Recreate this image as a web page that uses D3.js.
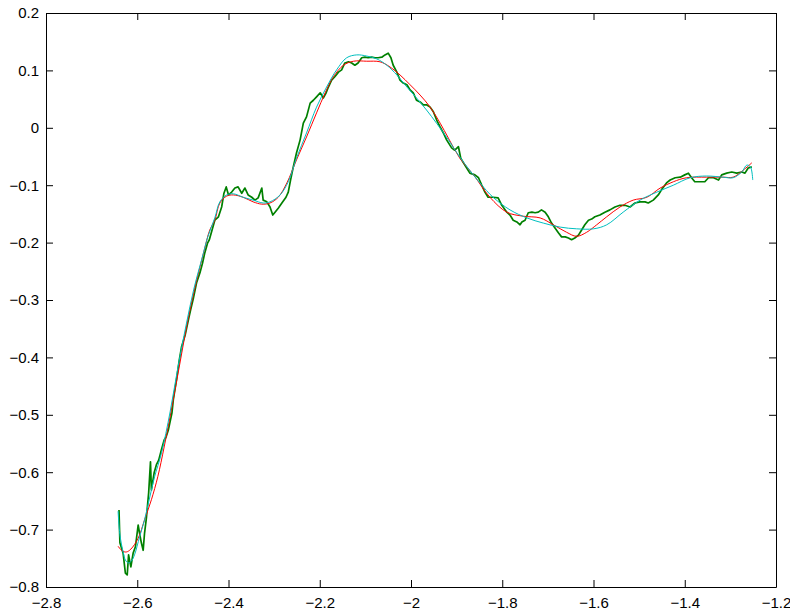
<!DOCTYPE html>
<html>
<head>
<meta charset="utf-8">
<script src="https://cdn.jsdelivr.net/npm/d3@7"></script>
<style>
  html, body { margin: 0; padding: 0; background: #fff; }
  svg { display: block; }
  text { font-family: "Liberation Sans", Arial, Helvetica, sans-serif; }
</style>
</head>
<body>
<svg id="chart" width="790" height="611"></svg>
<script>
// ---------------- DATA ----------------
const xTicks = [-2.8, -2.6, -2.4, -2.2, -2.0, -1.8, -1.6, -1.4, -1.2];
const yTicks = [-0.8, -0.7, -0.6, -0.5, -0.4, -0.3, -0.2, -0.1, 0, 0.1, 0.2];
const xDomain = [-2.8, -1.2];
const yDomain = [-0.8, 0.2];

// measured (noisy) data – green
const dataX = [-2.640,-2.638,-2.631,-2.626,-2.622,-2.619,-2.614,-2.609,-2.604,-2.598,-2.595,-2.591,-2.587,-2.584,-2.580,-2.575,-2.571,-2.569,-2.563,-2.558,-2.553,-2.547,-2.541,-2.537,-2.532,-2.524,-2.521,-2.514,-2.508,-2.503,-2.495,-2.488,-2.483,-2.477,-2.470,-2.462,-2.457,-2.452,-2.446,-2.442,-2.436,-2.430,-2.422,-2.415,-2.410,-2.405,-2.400,-2.393,-2.386,-2.379,-2.371,-2.364,-2.357,-2.349,-2.342,-2.335,-2.327,-2.324,-2.316,-2.309,-2.303,-2.298,-2.291,-2.283,-2.274,-2.269,-2.264,-2.258,-2.251,-2.243,-2.236,-2.229,-2.221,-2.214,-2.207,-2.199,-2.192,-2.186,-2.181,-2.174,-2.167,-2.159,-2.152,-2.145,-2.137,-2.130,-2.123,-2.116,-2.108,-2.101,-2.094,-2.086,-2.079,-2.072,-2.064,-2.057,-2.050,-2.044,-2.039,-2.031,-2.024,-2.017,-2.009,-2.002,-1.995,-1.988,-1.980,-1.973,-1.966,-1.958,-1.951,-1.944,-1.936,-1.929,-1.922,-1.911,-1.904,-1.896,-1.891,-1.882,-1.871,-1.860,-1.852,-1.845,-1.838,-1.831,-1.820,-1.809,-1.801,-1.790,-1.783,-1.776,-1.768,-1.761,-1.757,-1.750,-1.743,-1.735,-1.728,-1.721,-1.714,-1.706,-1.699,-1.692,-1.684,-1.677,-1.670,-1.662,-1.655,-1.648,-1.641,-1.633,-1.626,-1.619,-1.611,-1.604,-1.597,-1.586,-1.575,-1.564,-1.553,-1.542,-1.531,-1.520,-1.509,-1.498,-1.487,-1.480,-1.469,-1.458,-1.451,-1.440,-1.432,-1.421,-1.410,-1.400,-1.392,-1.385,-1.378,-1.367,-1.356,-1.348,-1.337,-1.326,-1.319,-1.308,-1.297,-1.286,-1.275,-1.268,-1.261,-1.253];
const dataY = [-0.666,-0.723,-0.741,-0.776,-0.779,-0.744,-0.765,-0.741,-0.730,-0.692,-0.706,-0.723,-0.736,-0.706,-0.680,-0.636,-0.582,-0.631,-0.601,-0.587,-0.579,-0.561,-0.544,-0.539,-0.527,-0.497,-0.474,-0.439,-0.405,-0.382,-0.361,-0.335,-0.317,-0.297,-0.270,-0.251,-0.236,-0.218,-0.201,-0.195,-0.178,-0.161,-0.155,-0.138,-0.114,-0.103,-0.117,-0.112,-0.105,-0.103,-0.114,-0.105,-0.117,-0.121,-0.126,-0.122,-0.105,-0.126,-0.129,-0.138,-0.152,-0.147,-0.140,-0.131,-0.121,-0.112,-0.091,-0.068,-0.044,-0.021,0.008,0.019,0.043,0.048,0.054,0.061,0.052,0.061,0.071,0.083,0.089,0.097,0.101,0.113,0.115,0.113,0.109,0.113,0.122,0.123,0.122,0.123,0.122,0.122,0.123,0.127,0.130,0.122,0.109,0.097,0.083,0.078,0.075,0.066,0.061,0.048,0.045,0.040,0.040,0.036,0.028,0.014,0.001,-0.009,-0.021,-0.035,-0.039,-0.033,-0.053,-0.065,-0.079,-0.082,-0.087,-0.100,-0.112,-0.121,-0.121,-0.122,-0.135,-0.147,-0.152,-0.161,-0.164,-0.169,-0.164,-0.161,-0.148,-0.147,-0.148,-0.147,-0.143,-0.147,-0.155,-0.166,-0.175,-0.183,-0.190,-0.190,-0.192,-0.195,-0.192,-0.187,-0.178,-0.169,-0.161,-0.159,-0.155,-0.152,-0.147,-0.143,-0.138,-0.135,-0.135,-0.138,-0.131,-0.129,-0.129,-0.131,-0.126,-0.117,-0.108,-0.096,-0.091,-0.087,-0.086,-0.082,-0.079,-0.087,-0.094,-0.094,-0.094,-0.087,-0.087,-0.091,-0.082,-0.079,-0.077,-0.079,-0.077,-0.079,-0.070,-0.068];

// fit 1 – red
const fitRedX = [-2.642,-2.633,-2.624,-2.614,-2.598,-2.584,-2.569,-2.555,-2.541,-2.524,-2.506,-2.489,-2.471,-2.454,-2.441,-2.430,-2.419,-2.404,-2.389,-2.368,-2.346,-2.327,-2.309,-2.291,-2.272,-2.251,-2.229,-2.207,-2.188,-2.170,-2.148,-2.126,-2.097,-2.068,-2.046,-2.024,-2.002,-1.980,-1.958,-1.936,-1.918,-1.893,-1.863,-1.827,-1.790,-1.754,-1.717,-1.688,-1.659,-1.637,-1.615,-1.593,-1.571,-1.542,-1.513,-1.483,-1.454,-1.425,-1.396,-1.352,-1.316,-1.294,-1.272,-1.253];
const fitRedY = [-0.729,-0.737,-0.739,-0.734,-0.715,-0.683,-0.648,-0.608,-0.556,-0.486,-0.408,-0.335,-0.270,-0.216,-0.178,-0.161,-0.131,-0.119,-0.117,-0.121,-0.129,-0.133,-0.131,-0.121,-0.096,-0.056,-0.016,0.026,0.061,0.089,0.109,0.116,0.116,0.115,0.106,0.092,0.075,0.057,0.036,0.008,-0.018,-0.053,-0.082,-0.121,-0.147,-0.154,-0.157,-0.169,-0.182,-0.189,-0.182,-0.169,-0.155,-0.138,-0.126,-0.121,-0.105,-0.094,-0.087,-0.086,-0.086,-0.086,-0.074,-0.061];

// fit 2 – cyan
const fitCyanX = [-2.642,-2.638,-2.631,-2.626,-2.620,-2.613,-2.606,-2.595,-2.584,-2.573,-2.562,-2.547,-2.528,-2.511,-2.493,-2.476,-2.458,-2.445,-2.430,-2.419,-2.404,-2.389,-2.368,-2.346,-2.324,-2.309,-2.287,-2.269,-2.251,-2.229,-2.207,-2.185,-2.163,-2.141,-2.119,-2.097,-2.075,-2.053,-2.031,-2.009,-1.988,-1.966,-1.944,-1.918,-1.893,-1.849,-1.820,-1.783,-1.746,-1.710,-1.673,-1.637,-1.600,-1.571,-1.535,-1.498,-1.461,-1.425,-1.388,-1.352,-1.316,-1.294,-1.275,-1.264,-1.256,-1.251];
const fitCyanY = [-0.668,-0.709,-0.739,-0.753,-0.758,-0.755,-0.744,-0.713,-0.683,-0.645,-0.608,-0.567,-0.495,-0.418,-0.344,-0.281,-0.227,-0.189,-0.157,-0.129,-0.117,-0.115,-0.121,-0.126,-0.131,-0.129,-0.117,-0.094,-0.053,-0.009,0.036,0.071,0.101,0.122,0.127,0.125,0.120,0.109,0.092,0.071,0.052,0.031,0.008,-0.021,-0.051,-0.096,-0.121,-0.143,-0.157,-0.166,-0.173,-0.176,-0.176,-0.169,-0.147,-0.126,-0.112,-0.100,-0.087,-0.084,-0.086,-0.087,-0.077,-0.065,-0.068,-0.091];

// ---------------- CHART ----------------
const W = 790, H = 611;
const margin = { left: 46, top: 13, right: 14, bottom: 24 };
const iw = W - margin.left - margin.right;
const ih = H - margin.top - margin.bottom;

const svg = d3.select("#chart");
const g = svg.append("g").attr("transform", `translate(${margin.left},${margin.top})`);

const x = d3.scaleLinear().domain(xDomain).range([0, iw]);
const y = d3.scaleLinear().domain(yDomain).range([ih, 0]);

const fmt = v => {
  const r = Math.round(v * 10) / 10;
  if (r === 0) return "0";
  const s = Math.abs(r) === Math.round(Math.abs(r)) && Math.abs(r) >= 1 ? Math.abs(r).toFixed(0) : String(Math.abs(r));
  return (r < 0 ? "\u2212" : "") + s;
};

const zip = (xs, ys) => xs.map((v, i) => [v, ys[i]]);
const line = d3.line().x(d => x(d[0])).y(d => y(d[1]));

g.append("clipPath").attr("id", "clip").append("rect").attr("width", iw).attr("height", ih);
const plot = g.append("g").attr("clip-path", "url(#clip)");

plot.append("path").datum(zip(dataX, dataY))
  .attr("d", line).attr("fill", "none").attr("stroke", "#008000").attr("stroke-width", 1.7)
  .attr("stroke-linejoin", "round");
plot.append("path").datum(zip(fitRedX, fitRedY))
  .attr("d", line.curve(d3.curveCatmullRom)).attr("fill", "none").attr("stroke", "#ff0000").attr("stroke-width", 1);
plot.append("path").datum(zip(fitCyanX, fitCyanY))
  .attr("d", line.curve(d3.curveCatmullRom)).attr("fill", "none").attr("stroke", "#00bfbf").attr("stroke-width", 1);

// axes (MATLAB-style box with inward ticks)
const tick = 7;
const axB = g.append("g").attr("transform", `translate(0,${ih})`)
  .call(d3.axisBottom(x).tickValues(xTicks).tickFormat(fmt).tickSizeInner(-tick).tickSizeOuter(0).tickPadding(10));
const axT = g.append("g")
  .call(d3.axisTop(x).tickValues(xTicks).tickFormat("").tickSizeInner(-tick).tickSizeOuter(0));
const axL = g.append("g")
  .call(d3.axisLeft(y).tickValues(yTicks).tickFormat(fmt).tickSizeInner(-tick).tickSizeOuter(0).tickPadding(7));
const axR = g.append("g").attr("transform", `translate(${iw},0)`)
  .call(d3.axisRight(y).tickValues(yTicks).tickFormat("").tickSizeInner(-tick).tickSizeOuter(0));

[axB, axT, axL, axR].forEach(a => {
  a.selectAll(".domain").attr("stroke", "#000").attr("stroke-width", 1);
  a.selectAll(".tick line").attr("stroke", "#000");
  a.selectAll("text").attr("fill", "#000").style("font-size", "15px");
});
</script>
</body>
</html>
